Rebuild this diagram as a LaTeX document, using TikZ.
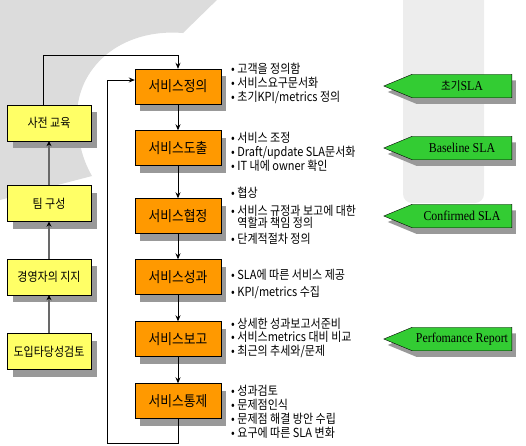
\documentclass[tikz,border=0pt]{standalone}
\usepackage{fontspec}
\setmainfont[FakeStretch=0.88]{Noto Sans CJK KR}
\newfontfamily\slafont[FakeStretch=0.88]{Liberation Serif}
\usepackage{tikz}
\usetikzlibrary{arrows.meta,shapes.symbols,shadows}
\definecolor{stageorange}{RGB}{255,153,0}
\definecolor{prepyellow}{RGB}{255,255,102}
\definecolor{slagreen}{RGB}{51,204,51}
\definecolor{shadowgray}{RGB}{153,153,153}
\definecolor{linegray}{RGB}{105,105,105}
\definecolor{wmgray}{RGB}{220,220,220}
\definecolor{bandgray}{RGB}{237,237,237}

\begin{document}
\begin{tikzpicture}[x=1pt,y=-1pt,
  every node/.style={font=\fontsize{12.5pt}{14pt}\selectfont},
  stage/.style={draw,fill=stageorange,minimum width=86pt,minimum height=35pt,
    font=\fontsize{14.5pt}{16pt}\selectfont,
    drop shadow={shadow xshift=5pt,shadow yshift=-7pt,fill=shadowgray,opacity=1}},
  prep/.style={draw,fill=prepyellow,minimum width=84pt,minimum height=36pt,inner sep=1pt,
    drop shadow={shadow xshift=6pt,shadow yshift=-7pt,fill=shadowgray,opacity=1}},
  sla/.style={signal,signal to=west,signal pointer angle=45,draw,fill=slagreen,
    minimum width=128pt,minimum height=23.5pt,inner sep=0pt,
    font=\slafont\fontsize{13.5pt}{15pt}\selectfont,
    drop shadow={shadow xshift=4pt,shadow yshift=-6pt,fill=shadowgray,opacity=1}},
  notes/.style={anchor=west,align=left,inner sep=1pt},
  arr/.style={line width=0.8pt,-{Stealth[length=6pt,width=5pt]}},
  uparr/.style={draw=linegray,line width=1.6pt,-{Stealth[length=5pt,width=5pt,color=black]}}]
\useasboundingbox (0,0) rectangle (526,445);
\clip (0,0) rectangle (526,445);
% watermark
\fill[wmgray] (0,-5) -- (222,-5) -- (183,33) .. controls (120,28) and (76,68) .. (77,118)
  .. controls (78,145) and (84,162) .. (92,176) -- (0,200) -- cycle;
\fill[bandgray,rounded corners=9pt] (403,-20) rectangle (484,203);
% service stages
\node[stage] (def) at (178,86.5) {서비스정의};
\node[stage] (der) at (178,148) {서비스도출};
\node[stage] (agr) at (178,216) {서비스협정};
\node[stage] (prf) at (178,277) {서비스성과};
\node[stage] (rpt) at (178,339) {서비스보고};
\node[stage] (ctl) at (178,401) {서비스통제};
\draw[arr] (def) -- (der);
\draw[arr] (der) -- (agr);
\draw[arr] (agr) -- (prf);
\draw[arr] (prf) -- (rpt);
\draw[arr] (rpt) -- (ctl);
\coordinate (lp) at (107,443.5);
\draw[arr] (ctl.south) |- (lp) |- ([yshift=6.5pt]def.west);
% preparation
\node[prep] (edu) at (49,123) {사전 교육};
\node[prep] (team) at (49,203.5) {팀 구성};
\node[prep] (mgmt) at (49,277) {경영자의 지지};
\node[prep] (feas) at (49,351.5) {도입타당성검토};
\draw[uparr] (feas) -- (mgmt);
\draw[uparr] (mgmt) -- (team);
\draw[uparr] (team) -- (edu);
\draw[arr] ([xshift=-6pt]edu.north) -- ++(0,-49) -| (def.north);
% notes
\node[notes] (n1) at (230,83) {• 고객을 정의함\\• 서비스요구문서화\\• 초기KPI/metrics 정의};
\node[notes] (n2) at (230,152) {• 서비스 조정\\• Draft/update SLA문서화\\• IT 내에 owner 확인};
\node[notes,font=\fontsize{12.5pt}{11.5pt}\selectfont] (n3) at (230,216)
  {• 협상\\[7pt]• 서비스 규정과 보고에 대한\\\phantom{• }역할과 책임 정의\\[5pt]• 단계적절차 정의};
\node[notes] (n4) at (230,284) {• SLA에 따른 서비스 제공\\[3.5pt]• KPI/metrics 수집};
\node[notes,font=\fontsize{12.5pt}{13.5pt}\selectfont] (n5) at (230,337.5)
  {• 상세한 성과보고서준비\\• 서비스metrics 대비 비교\\• 최근의 추세와/문제};
\node[notes,font=\fontsize{12.5pt}{13.8pt}\selectfont] (n6) at (230,412)
  {• 성과검토\\• 문제점인식\\• 문제점 해결 방안 수립\\• 요구에 따른 SLA 변화};
% SLA outputs
\node[sla] (g1) at (462,86) {{\normalfont\fontsize{12pt}{13pt}\selectfont 초기}SLA};
\node[sla] (g2) at (462,148) {Baseline SLA};
\node[sla] (g3) at (462,216) {Confirmed SLA};
\node[sla] (g4) at (462,339) {Perfomance Report};
\end{tikzpicture}
\end{document}
